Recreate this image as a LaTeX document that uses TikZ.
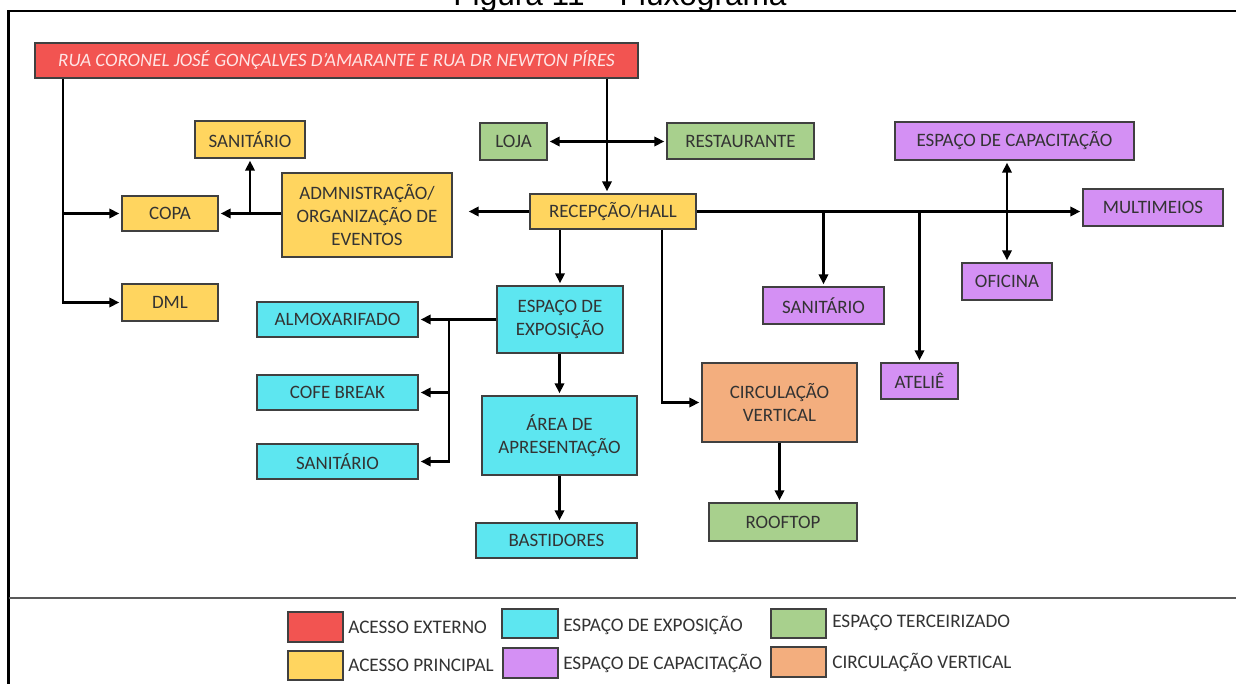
\documentclass[tikz,border=0pt]{standalone}
\usepackage{fontspec}
\setmainfont{Carlito}
\newfontfamily\titlefont{Liberation Sans}
\usetikzlibrary{arrows.meta}

\definecolor{cRed}{HTML}{F25451}
\definecolor{cYel}{HTML}{FFD55F}
\definecolor{cCya}{HTML}{5DE6F0}
\definecolor{cGrn}{HTML}{A8D08D}
\definecolor{cPur}{HTML}{D490F4}
\definecolor{cOra}{HTML}{F3AE7E}
\definecolor{edge}{HTML}{404040}
\definecolor{ink}{HTML}{333333}
\definecolor{streetink}{HTML}{FFE6E6}

\tikzset{
  room/.style={draw=edge, line width=1pt, text=ink, inner sep=0pt, align=center,
    font=\fontsize{14.2}{17.25}\selectfont},
  flow/.style={line width=1.7pt, -{Triangle[length=7.5pt,width=7pt]}, shorten >=1.5pt},
  both/.style={line width=1.7pt, {Triangle[length=7.5pt,width=7pt]}-{Triangle[length=7.5pt,width=7pt]},
    shorten >=1.5pt, shorten <=1.5pt},
  swatch/.style={draw=edge, line width=1pt, inner sep=0pt},
  legendtext/.style={anchor=west, inner sep=0pt, text=ink, font=\fontsize{14.4}{17}\selectfont},
}

% room box from its corner pixels: name, x1, y1, x2, y2, fill, text
\newcommand\roombox[7]{%
  \node[room, fill=#6, minimum width={(#4-#2)*0.75pt}, minimum height={(#5-#3)*0.75pt}]
    (#1) at ({(#2+#4)/2},{(#3+#5)/2}) {#7};}
% legend swatch: name, x1, y1, x2, y2, fill
\newcommand\swatchbox[6]{%
  \node[swatch, fill=#6, minimum width={(#4-#2)*0.75pt}, minimum height={(#5-#3)*0.75pt}]
    (#1) at ({(#2+#4)/2},{(#3+#5)/2}) {};}

\begin{document}
\begin{tikzpicture}[x=0.75pt,y=-0.75pt]
\clip (0,0) rectangle (1236,684);
\fill[white] (0,0) rectangle (1236,684);

% caption and frame
\node[anchor=base, inner sep=0pt, font=\titlefont\fontsize{23.7}{24}\selectfont] (title) at (620,6) {Figura 11 – Fluxograma};
\draw[line width=2pt] (8.5,700) -- (8.5,11) -- (1250,11);
\draw[line width=1.2pt, draw=black!65] (8.5,598) -- (1250,598);

% rooms
\roombox{street}{35}{43}{638}{78}{cRed}{\color{streetink}\itshape RUA CORONEL JOSÉ GONÇALVES D'AMARANTE E RUA DR NEWTON PÍRES}
\roombox{sanA}{195}{121}{305}{158}{cYel}{SANITÁRIO}
\roombox{loja}{480}{123}{547}{160}{cGrn}{LOJA}
\roombox{rest}{667}{123}{814}{159}{cGrn}{RESTAURANTE}
\roombox{capac}{895}{122}{1134}{160}{cPur}{ESPAÇO DE CAPACITAÇÃO}
\roombox{copa}{122}{196}{218}{231}{cYel}{COPA}
\roombox{adm}{282}{173}{452}{257}{cYel}{ADMNISTRAÇÃO/\\ORGANIZAÇÃO DE\\EVENTOS}
\roombox{recep}{530}{194}{696}{229}{cYel}{RECEPÇÃO/HALL}
\roombox{multi}{1083}{189}{1223}{226}{cPur}{MULTIMEIOS}
\roombox{ofi}{962}{263}{1052}{300}{cPur}{OFICINA}
\roombox{dml}{122}{284}{218}{321}{cYel}{DML}
\roombox{expo}{497}{286}{623}{353}{cCya}{ESPAÇO DE\\EXPOSIÇÃO}
\roombox{almox}{257}{302}{418}{337}{cCya}{ALMOXARIFADO}
\roombox{sanC}{763}{287}{884}{324}{cPur}{SANITÁRIO}
\roombox{atelie}{881}{363}{958}{399}{cPur}{ATELIÊ}
\roombox{circ}{702}{363}{857}{442}{cOra}{CIRCULAÇÃO\\VERTICAL}
\roombox{cofe}{257}{375}{418}{410}{cCya}{COFE BREAK}
\roombox{area}{482}{396}{637}{475}{cCya}{ÁREA DE\\APRESENTAÇÃO}
\roombox{sanB}{257}{444}{418}{479}{cCya}{SANITÁRIO}
\roombox{roof}{709}{503}{857}{541}{cGrn}{ROOFTOP}
\roombox{bast}{476}{523}{637}{558}{cCya}{BASTIDORES}

% branch columns
\coordinate (jL) at (63,0);
\coordinate (jR) at (607,0);
\coordinate (jA) at (250,0);
\coordinate (jE) at (449,0);
\coordinate (jC) at (662,0);

% connectors
\draw[flow] (street.south -| jL) |- (dml.west);
\draw[flow] (copa.west -| jL) -- (copa.west);
\draw[flow] (street.south -| jR) -- (recep.north -| jR);
\draw[both] (loja.east) -- (loja.east -| rest.west);
\draw[flow, shorten >=12pt] (recep.west) -- (recep.west -| adm.east);
\draw[flow] (copa.east -| adm.west) -- (copa.east);
\draw[flow] (copa.east -| jA) -- (jA |- sanA.south);
\draw[flow] (recep.east) -- (recep.east -| multi.west);
\draw[flow] (recep.east -| sanC.north) -- (sanC.north);
\draw[flow] (recep.east -| atelie.north) -- (atelie.north);
\draw[both] (capac.south -| ofi.north) -- (ofi.north);
\draw[flow] (recep.south -| expo.north) -- (expo.north);
\draw[flow] (recep.south -| jC) |- (circ.west);
\draw[flow] (circ.south) -- (circ.south |- roof.north);
\draw[flow] (expo.west) -- (expo.west -| almox.east);
\draw[flow] (expo.west -| jE) |- (sanB.east);
\draw[flow] (cofe.east -| jE) -- (cofe.east);
\draw[flow] (expo.south -| area.north) -- (area.north);
\draw[flow] (area.south) -- (area.south |- bast.north);

% legend
\swatchbox{kRed}{288}{612}{343}{642}{cRed}
\swatchbox{kYel}{288}{651}{343}{680}{cYel}
\swatchbox{kCya}{502}{609}{558}{638}{cCya}
\swatchbox{kPur}{503}{648}{558}{678}{cPur}
\swatchbox{kGrn}{771}{609}{826}{638}{cGrn}
\swatchbox{kOra}{771}{647}{826}{677}{cOra}
\node[legendtext] (tRed) at (348,627) {ACESSO EXTERNO};
\node[legendtext] (tYel) at (348,665) {ACESSO PRINCIPAL};
\node[legendtext] (tCya) at (563,625) {ESPAÇO DE EXPOSIÇÃO};
\node[legendtext] (tPur) at (563,663) {ESPAÇO DE CAPACITAÇÃO};
\node[legendtext] (tGrn) at (832,623) {ESPAÇO TERCEIRIZADO};
\node[legendtext] (tOra) at (832,662) {CIRCULAÇÃO VERTICAL};
\end{tikzpicture}
\end{document}
